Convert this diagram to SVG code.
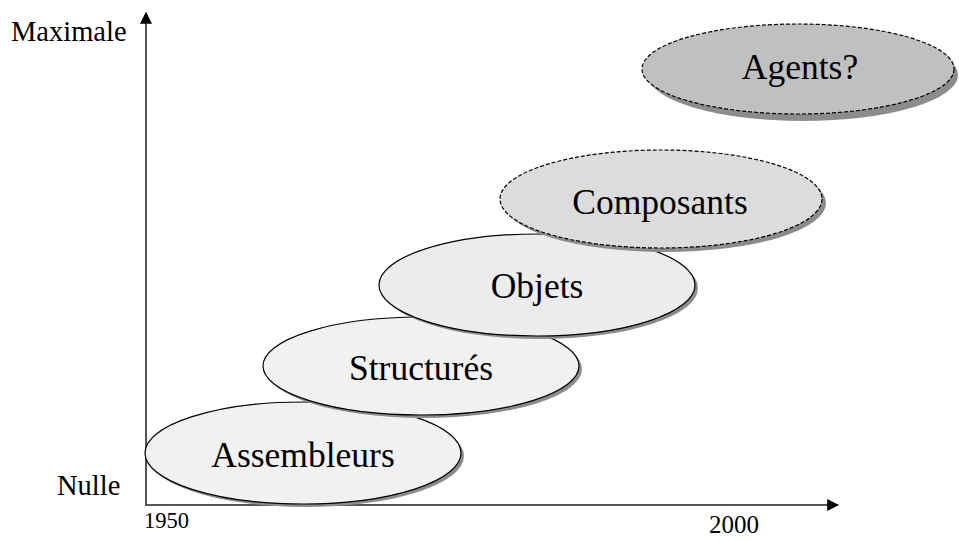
<svg xmlns="http://www.w3.org/2000/svg" width="959" height="541" viewBox="0 0 959 541">
  <style>
    .lbl { font-family: "Liberation Serif", "Times New Roman", serif; fill: #000; }
    .big { font-size: 35.5px; text-anchor: middle; }
    .axis { stroke: #555; stroke-width: 2; fill: none; }
    .shadow { fill: #8c8c8c; }
    .solid { stroke: #000; stroke-width: 1.2; }
    .dash { stroke: #000; stroke-width: 1.2; stroke-dasharray: 4 2; }
  </style>
  <defs>
    <marker id="arrow" viewBox="0 0 10 10" refX="9" refY="5" markerWidth="6" markerHeight="6" orient="auto" markerUnits="strokeWidth">
      <path d="M0,0 L10,5 L0,10 z" fill="#000"/>
    </marker>
  </defs>

  <rect width="959" height="541" fill="#fff"/>

  <!-- axes -->
  <g id="connectors">
    <line class="axis" x1="146" y1="506" x2="146" y2="13" marker-end="url(#arrow)"/>
    <line class="axis" x1="145" y1="505" x2="838" y2="505" marker-end="url(#arrow)"/>
  </g>

  <!-- axis labels -->
  <text class="lbl" x="11" y="41" font-size="28.5">Maximale</text>
  <text class="lbl" x="57" y="495" font-size="28.5">Nulle</text>
  <text class="lbl" x="144" y="528" font-size="22.5">1950</text>
  <text class="lbl" x="709" y="533" font-size="25">2000</text>

  <g id="assembleurs">
    <ellipse class="shadow" cx="306" cy="456" rx="158" ry="51"/>
    <ellipse class="solid" cx="303" cy="453" rx="158" ry="51" fill="#f1f1f1"/>
    <text class="lbl big" x="303" y="467">Assembleurs</text>
  </g>

  <g id="structures">
    <ellipse class="shadow" cx="424" cy="369" rx="158" ry="49"/>
    <ellipse class="solid" cx="421" cy="366" rx="158" ry="49" fill="#f1f1f1"/>
    <text class="lbl big" x="421" y="380">Structurés</text>
  </g>

  <g id="objets">
    <ellipse class="shadow" cx="540" cy="288" rx="158" ry="51"/>
    <ellipse class="solid" cx="537" cy="285" rx="158" ry="51" fill="#ececec"/>
    <text class="lbl big" x="537" y="298">Objets</text>
  </g>

  <g id="composants">
    <ellipse class="shadow" cx="665" cy="203" rx="161" ry="49" fill="#7a7a7a"/>
    <ellipse class="dash" cx="661" cy="199" rx="161" ry="49" fill="#dcdcdc"/>
    <text class="lbl big" x="660" y="214">Composants</text>
  </g>

  <g id="agents">
    <ellipse class="shadow" cx="803" cy="75" rx="155" ry="46" fill="#7a7a7a"/>
    <ellipse class="dash" cx="798" cy="69" rx="156" ry="45" fill="#c0c0c0"/>
    <text class="lbl big" x="800" y="79">Agents?</text>
  </g>
</svg>
